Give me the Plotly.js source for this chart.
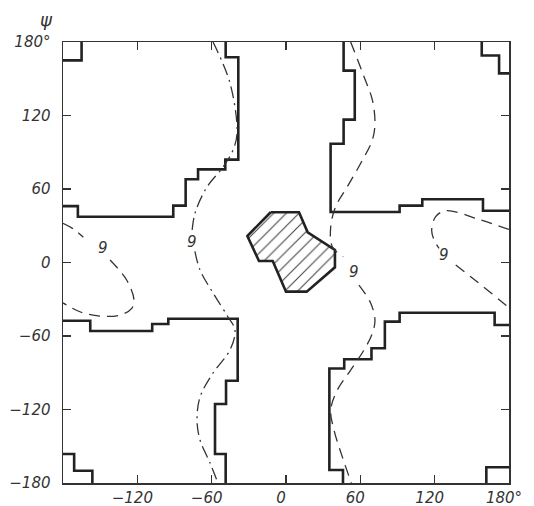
<!DOCTYPE html>
<html>
<head>
<meta charset="utf-8">
<script src="https://cdn.plot.ly/plotly-3.0.1.min.js"></script>
<style>html,body{margin:0;padding:0;background:#fff;}#chart{width:534px;height:506px;}</style>
</head>
<body>
<div id="chart"></div>
<script>
// Allowed-region boundaries (phi, psi in degrees)
const tlX = [-180, -168, -168, -91, -91, -81, -81, -71, -71, -49, -49, -38.5, -38.5, -48.7, -48.7];
const tlY = [46, 46, 37.4, 37.4, 46.4, 46.4, 68, 68, 76, 76, 84, 84, 167.5, 167.5, 180];
const tlcX = [-165, -165, -180];
const tlcY = [180, 165, 165];
const trX = [46.5, 46.5, 55.5, 55.5, 46.5, 46.5, 36, 36, 91.7, 91.7, 110, 110, 159, 159, 180];
const trY = [180, 156.6, 156.6, 116.6, 116.6, 97, 97, 41.2, 41.2, 46.4, 46.4, 51.6, 51.6, 42.3, 42.3];
const trcX = [158, 158, 172, 172, 180];
const trcY = [180, 169, 169, 154.4, 154.4];
const blX = [-180, -158, -158, -108, -108, -95, -95, -39, -39, -48.4, -48.4, -57.3, -57.3, -48.7, -48.7];
const blY = [-47.5, -47.5, -55.9, -55.9, -50.2, -50.2, -45.9, -45.9, -96.5, -96.5, -115.5, -115.5, -156.3, -156.3, -180];
const blcX = [-180, -171, -171, -156.3, -156.3];
const blcY = [-156.3, -156.3, -170, -170, -180];
const brX = [46, 46, 35, 35, 47, 47, 69, 69, 79.8, 79.8, 91.7, 91.7, 168.4, 168.4, 180];
const brY = [-180, -169.4, -169.4, -86.5, -86.5, -79, -79, -70, -70, -48.3, -48.3, -41, -41, -51, -51];
const brcX = [161.7, 161.7, 180];
const brcY = [-180, -167.2, -167.2];
// Hatched region
const hX = [-12.4, 10.5, 17.5, 39.5, 39.5, 16.7, 0, -10.7, -21.8, -31.2, -12.4];
const hY = [41, 41, 24.6, 10.2, -3.9, -23.8, -23.8, 1.2, 1.2, 21.6, 41];
// Contours labelled 9
const c1aX = [-58.9, -45.2, -39.5, -42.8, -50.8, -63.8, -73.4, -75.9];
const c1aY = [180, 146.5, 105.7, 91.8, 77.9, 61.6, 40.4, 25];
const c1bX = [-73.5, -69.4, -58.9, -46.8, -41.2, -45.2, -58.9, -69.4, -71.8, -69.4, -61.3, -54.9];
const c1bY = [9, -6.1, -24.9, -44.5, -55.1, -71.4, -90.2, -109.8, -128.6, -144.9, -163.7, -180];
const c2aX = [52.2, 63, 69.7, 71.8, 69.7, 60.3, 49.5, 40.1, 36.1, 37.4, 46.2];
const c2aY = [180, 151.7, 132.7, 113.6, 100, 81, 61.9, 45.6, 29.2, 12.9, 4.7];
const c2bX = [58.9, 68.4, 71.8, 69.7, 63, 52.2, 41.4, 36.1, 38.7, 45.4, 52.7];
const c2bY = [-18.4, -33.3, -46.9, -57.8, -71.4, -87.8, -104.1, -120.4, -136.7, -158.5, -180];
const c3aX = [-180, -171, -163.6];
const c3aY = [32, 27, 20.6];
const c3bX = [-142, -128.6, -122.7, -124.5, -134, -150.1, -166.3, -180];
const c3bY = [2, -14.3, -30.6, -37.4, -42.9, -43.7, -40.2, -33];
const c4aX = [180, 157.1, 128.9, 120.8, 117.6, 119.5, 123.5];
const c4aY = [27, 34.7, 42.3, 37.4, 26.5, 18.4, 11.6];
const c4bX = [137, 149.1, 162.5, 177.3, 180];
const c4bY = [-2, -11.6, -22.4, -34.7, -37];
// Contour labels
const lblX = [-76, 55, -147.5, 127.5];
const lblY = [17, -8, 12, 6];
const lblText = ['9', '9', '9', '9'];
// Ticks
const xTickVals = [-180, -120, -60, 0, 60, 120, 180];
const xTickText = ['', '−120', '−60', '0', '60', '120', '180°'];
const yTickVals = [-180, -120, -60, 0, 60, 120, 180];
const yTickText = ['−180', '−120', '−60', '0', '60', '120', '180°'];
const psiLabel = 'ψ';

const ink = '#222';
function bound(x, y) {
  return {x: x, y: y, mode: 'lines', type: 'scatter', hoverinfo: 'skip',
    line: {color: ink, width: 2.6, shape: 'linear'}, showlegend: false};
}
function contour(x, y, dash) {
  return {x: x, y: y, mode: 'lines', type: 'scatter', hoverinfo: 'skip',
    line: {color: '#333', width: 1.3, dash: dash, shape: 'spline', smoothing: 1},
    showlegend: false};
}
const ddash = '12px,5px,2px,5px';
const ldash = '11px,7px';
const traces = [
  bound(tlX, tlY), bound(tlcX, tlcY), bound(trX, trY), bound(trcX, trcY),
  bound(blX, blY), bound(blcX, blcY), bound(brX, brY), bound(brcX, brcY),
  {x: hX, y: hY, mode: 'lines', type: 'scatter', fill: 'toself', hoverinfo: 'skip',
   fillcolor: 'white',
   fillpattern: {shape: '/', fgcolor: '#444', bgcolor: 'white', size: 9, solidity: 0.12},
   line: {color: ink, width: 2.6}, showlegend: false},
  contour(c1aX, c1aY, ddash), contour(c1bX, c1bY, ddash),
  contour(c2aX, c2aY, ldash), contour(c2bX, c2bY, ldash),
  contour(c3aX, c3aY, ldash), contour(c3bX, c3bY, ldash),
  contour(c4aX, c4aY, ldash), contour(c4bX, c4bY, ldash)
];

const tickFont = {family: 'DejaVu Sans', size: 15, color: '#333', style: 'italic'};
const annotations = lblX.map((x, i) => ({
  x: x, y: lblY[i], text: lblText[i], showarrow: false, xref: 'x', yref: 'y',
  xanchor: 'center', yanchor: 'middle',
  font: {family: 'DejaVu Sans', size: 15, color: '#333', style: 'italic'}
}));
annotations.push({
  x: (46 - 63) / 446, y: 1 + (42 - 19) / 441, xref: 'paper', yref: 'paper',
  xanchor: 'center', yanchor: 'middle', text: psiLabel, showarrow: false,
  font: {family: 'DejaVu Sans', size: 18, color: '#333', style: 'italic'}
});

const layout = {
  width: 534, height: 506,
  margin: {l: 63, r: 25, t: 42, b: 23, pad: 0},
  paper_bgcolor: 'white', plot_bgcolor: 'white',
  showlegend: false,
  xaxis: {range: [-180, 180], tickmode: 'array', tickvals: xTickVals, ticktext: xTickText,
    ticks: 'inside', ticklen: 8, tickwidth: 1.2, tickcolor: '#333',
    showline: true, linecolor: '#333', linewidth: 1.5, mirror: 'ticks',
    showgrid: false, zeroline: false, tickfont: tickFont, ticklabelstandoff: 0,
    ticklabelshift: -5, fixedrange: true},
  yaxis: {range: [-180, 180], tickmode: 'array', tickvals: yTickVals, ticktext: yTickText,
    ticks: 'inside', ticklen: 8, tickwidth: 1.2, tickcolor: '#333',
    showline: true, linecolor: '#333', linewidth: 1.5, mirror: 'ticks',
    showgrid: false, zeroline: false, tickfont: tickFont, ticklabelstandoff: 8,
    fixedrange: true},
  annotations: annotations
};
Plotly.newPlot('chart', traces, layout, {displayModeBar: false, staticPlot: true});
</script>
</body>
</html>
